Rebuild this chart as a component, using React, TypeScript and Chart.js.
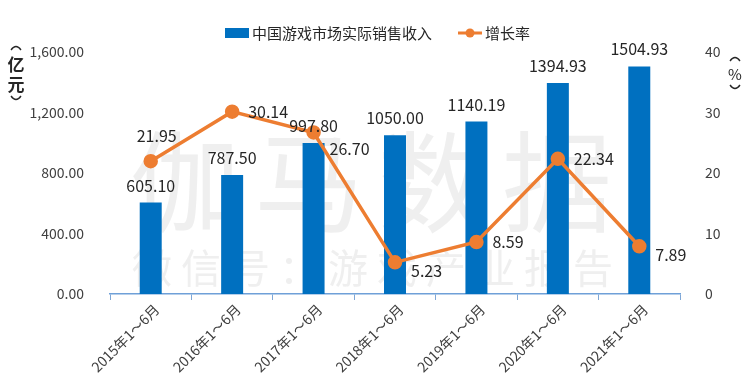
import React, { useEffect, useRef } from "react";
import { Chart, registerables } from "chart.js";

Chart.register(...registerables);

// ---------- data ----------
const categories = [
  "2015年1～6月",
  "2016年1～6月",
  "2017年1～6月",
  "2018年1～6月",
  "2019年1～6月",
  "2020年1～6月",
  "2021年1～6月",
];
const revenue = [605.1, 787.5, 997.8, 1050.0, 1140.19, 1394.93, 1504.93];
const growth = [21.95, 30.14, 26.7, 5.23, 8.59, 22.34, 7.89];
const revenueLabel = "中国游戏市场实际销售收入";
const growthLabel = "增长率";
const leftUnit = ["亿", "元"];
const rightUnit = ["%"];
const watermarkMain = "伽马数据";
const watermarkSub = "微信号：游戏产业报告";

// ---------- style ----------
const FONT = '"Noto Sans CJK SC", "Noto Sans", sans-serif';
const BLUE = "#0070C0";
const ORANGE = "#ED7D31";
const TEXT = "#262626";
const TICK = "#404040";
// growth label placement: "top" or "right", with an extra vertical nudge
const growthPlacement = ["top", "right", "right", "right", "right", "right", "right"];
const growthNudge = [0, 0, 16, 9, 0, 0, 9];

function paren(ctx: any, x: number, y: number, up: boolean) {
  ctx.beginPath();
  ctx.moveTo(x - 5, y + (up ? 3 : -3));
  ctx.quadraticCurveTo(x, y + (up ? -4 : 4), x + 5, y + (up ? 3 : -3));
  ctx.stroke();
}

const decorPlugin = {
  id: "decor",
  beforeDatasetsDraw(chart: any) {
    const ctx = chart.ctx;
    ctx.save();
    ctx.fillStyle = "rgba(205,205,205,0.32)";
    ctx.textBaseline = "middle";
    ctx.textAlign = "left";
    ctx.font = `110px ${FONT}`;
    (ctx as any).letterSpacing = "14px";
    ctx.fillText(watermarkMain, 130, 182);
    ctx.font = `40px ${FONT}`;
    (ctx as any).letterSpacing = "9px";
    ctx.fillText(watermarkSub, 132, 268);
    (ctx as any).letterSpacing = "0px";
    ctx.restore();
  },
  afterDatasetsDraw(chart: any) {
    const ctx = chart.ctx;
    ctx.save();
    // bar labels
    const barMeta = chart.getDatasetMeta(1);
    ctx.font = `16px ${FONT}`;
    ctx.fillStyle = TEXT;
    ctx.textAlign = "center";
    ctx.textBaseline = "bottom";
    barMeta.data.forEach((el: any, i: number) => {
      ctx.fillText(revenue[i].toFixed(2), el.x, el.y - 9);
    });
    // line labels
    const lineMeta = chart.getDatasetMeta(0);
    ctx.textBaseline = "middle";
    lineMeta.data.forEach((el: any, i: number) => {
      const txt = growth[i].toFixed(2);
      if (growthPlacement[i] === "top") {
        ctx.textAlign = "center";
        ctx.fillText(txt, el.x + 6, el.y - 25 + growthNudge[i]);
      } else {
        ctx.textAlign = "left";
        ctx.fillText(txt, el.x + 16, el.y + growthNudge[i]);
      }
    });
    ctx.restore();
  },
  afterDraw(chart: any) {
    const ctx = chart.ctx;
    ctx.save();
    // legend
    ctx.textBaseline = "middle";
    ctx.textAlign = "left";
    ctx.font = `15px ${FONT}`;
    ctx.fillStyle = BLUE;
    ctx.fillRect(225, 28, 24, 10);
    ctx.fillStyle = TEXT;
    ctx.fillText(chart.data.datasets[1].label, 252, 33);
    ctx.strokeStyle = ORANGE;
    ctx.lineWidth = 3;
    ctx.beginPath();
    ctx.moveTo(458, 33);
    ctx.lineTo(482, 33);
    ctx.stroke();
    ctx.fillStyle = ORANGE;
    ctx.beginPath();
    ctx.arc(470, 33, 4.5, 0, Math.PI * 2);
    ctx.fill();
    ctx.fillStyle = TEXT;
    ctx.fillText(chart.data.datasets[0].label, 485, 33);
    // unit titles
    ctx.textAlign = "center";
    ctx.strokeStyle = TEXT;
    ctx.lineWidth = 1.3;
    ctx.font = `bold 17px ${FONT}`;
    paren(ctx, 16, 47, true);
    ctx.fillText(leftUnit[0], 16, 65);
    ctx.fillText(leftUnit[1], 16, 85);
    paren(ctx, 16, 99, false);
    ctx.font = `15px ${FONT}`;
    paren(ctx, 735, 58, true);
    ctx.fillText(rightUnit[0], 735, 74);
    paren(ctx, 735, 88, false);
    ctx.restore();
  },
};

export default function App() {
  const ref = useRef<HTMLCanvasElement | null>(null);
  useEffect(() => {
    if (!ref.current) return;
    const chart = new Chart(ref.current, {
      type: "bar",
      data: {
        labels: categories,
        datasets: [
          {
            type: "line",
            label: growthLabel,
            data: growth,
            yAxisID: "y1",
            borderColor: ORANGE,
            backgroundColor: ORANGE,
            borderWidth: 3.5,
            pointRadius: 5.5,
            pointBackgroundColor: ORANGE,
            pointBorderColor: ORANGE,
            tension: 0,
            order: 0,
          } as any,
          {
            type: "bar",
            label: revenueLabel,
            data: revenue,
            yAxisID: "y",
            backgroundColor: BLUE,
            barPercentage: 0.27,
            categoryPercentage: 1,
            order: 1,
          },
        ],
      },
      options: {
        responsive: false,
        animation: false,
        layout: { padding: { top: 52, left: 0, right: 0, bottom: 0 } },
        plugins: {
          legend: { display: false },
          tooltip: { enabled: false },
        },
        scales: {
          x: {
            offset: true,
            grid: {
              display: true,
              drawOnChartArea: false,
              drawTicks: true,
              tickLength: 6,
              color: "#7FA7D6",
              offset: true,
            },
            border: { display: true, color: "#6FA0D8", width: 1.5 },
            ticks: {
              minRotation: 45,
              maxRotation: 45,
              color: TICK,
              font: { family: FONT, size: 14 },
              padding: 1,
              labelOffset: 6,
            },
            afterFit: (s: any) => {
              s.height = 90;
            },
          },
          y: {
            position: "left",
            min: 0,
            max: 1600,
            grid: { display: false },
            border: { display: false },
            ticks: {
              stepSize: 400,
              color: TICK,
              font: { family: FONT, size: 14 },
              padding: 18,
              callback: (v: any) =>
                Number(v).toLocaleString("en-US", {
                  minimumFractionDigits: 2,
                  maximumFractionDigits: 2,
                }),
            },
            afterFit: (s: any) => {
              s.width = 110;
            },
          },
          y1: {
            position: "right",
            min: 0,
            max: 40,
            grid: { display: false },
            border: { display: false },
            ticks: {
              stepSize: 10,
              color: TICK,
              font: { family: FONT, size: 14 },
              padding: 17,
            },
            afterFit: (s: any) => {
              s.width = 70;
            },
          },
        },
      },
      plugins: [decorPlugin],
    });
    return () => chart.destroy();
  }, []);
  return (
    <canvas
      ref={ref}
      width={750}
      height={384}
      style={{ position: "absolute", left: 0, top: 0, display: "block" }}
    />
  );
}
